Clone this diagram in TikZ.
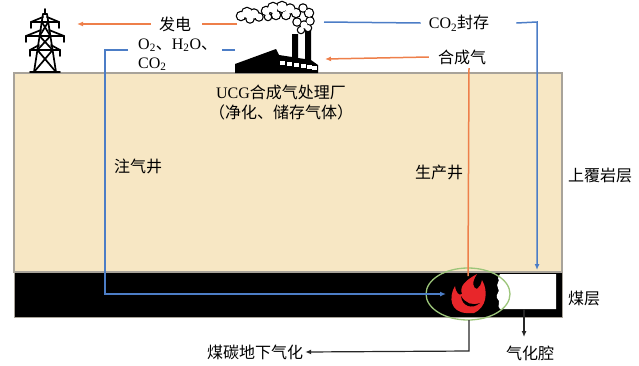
\documentclass[tikz,border=0pt]{standalone}
\usepackage{fontspec}
\setmainfont{Liberation Serif}
\newfontfamily\cjk{Noto Sans CJK SC}
\usetikzlibrary{arrows.meta}
\newcommand\zh[1]{{\cjk #1}}
\definecolor{rockfill}{HTML}{F7E7C4}
\definecolor{rockedge}{HTML}{A8A39A}
\definecolor{syngas}{HTML}{EE7F4A}
\definecolor{oxyblue}{HTML}{4C7DC6}
\definecolor{firered}{HTML}{E8262A}
\definecolor{zonegreen}{HTML}{9CC57A}
\begin{document}
\begin{tikzpicture}[x=1pt,y=-1pt,
  lbl/.style={inner sep=0pt, font=\fontsize{16}{20}\selectfont},
  oline/.style={draw=syngas, line width=1.5pt},
  bline/.style={draw=oxyblue, line width=1.5pt},
  kline/.style={draw=black!85, line width=1.2pt},
  tip/.style={-{Latex[length=6pt,width=5pt]}},
  tower/.style={draw=black, line width=1.7pt, line cap=round, line join=round}
]
\useasboundingbox (0,0) rectangle (639,365);

% ---- strata ----
\fill[rockfill, draw=rockedge, line width=1.2pt] (14,73) rectangle (562,272);
\fill[black, draw=rockedge, line width=1pt] (14,272) rectangle (562,317);

% gasification cavity with a ragged burn front
\fill[white] (500,274) -- (556,274) -- (556,309) -- (500,309)
  .. controls (496,306) and (502,302) .. (497,298)
  .. controls (495,294) and (501,292) .. (498,288)
  .. controls (495,284) and (501,281) .. (498,278)
  -- (500,274) -- cycle;

% ---- transmission tower ----
\begin{scope}[tower]
  \draw (45,9) -- (45,14);
  \draw (43,14) -- (34,72);
  \draw (47,14) -- (56,72);
  \draw (43,14) -- (47,14);
  % cross arms with insulators
  \draw (31,22) -- (59,22);
  \draw (31,22) -- (43,17); \draw (59,22) -- (47,17);
  \draw (31,22) -- (31,28); \draw (59,22) -- (59,28);
  \draw (26,36) -- (64,36);
  \draw (26,36) -- (41,30); \draw (64,36) -- (49,30);
  \draw (26,36) -- (26,42); \draw (64,36) -- (64,42);
  \draw (30,50) -- (60,50);
  \draw (30,50) -- (39,45); \draw (60,50) -- (51,45);
  \draw (30,50) -- (30,56); \draw (60,50) -- (60,56);
  % lattice bracing
  \draw (41.8,22) -- (50.4,36); \draw (48.2,22) -- (39.6,36);
  \draw (39.6,36) -- (52.6,50); \draw (50.4,36) -- (37.4,50);
  \draw (37.4,50) -- (56,72); \draw (52.6,50) -- (34,72);
  \draw (30,72) -- (60,72);
\end{scope}

% ---- processing plant ----
\fill[black] (235,73) -- (235,64) -- (276,49) -- (279,55) -- (292,57) -- (292,34)
  -- (298,34) -- (298,58) -- (305,59) -- (305,30) -- (311,30) -- (311,60)
  -- (318,65) -- (318,73) -- cycle;
\foreach \x/\y in {280/61,287/62,294/63,301/64,307/65,312/66}
  \fill[white] (\x,\y) rectangle ++(4.5,3.5);
% smoke: outline of a union of puffs (thick strokes, then white fill on top)
\def\puffs{241/16/4, 247/13/5, 254/14/4.5, 259/17/3.5, 250/19/3.5,
           266/11/4, 273/8/5, 282/7/5, 290/9/4.5, 296/13/4, 286/15/4, 276/15/4, 268/17/3,
           303/8/3.5, 309/13/4, 310/21/3.5, 304/25/3.5, 297/22/3.5, 301/30/3, 308/28/3}
\foreach \cx/\cy/\r in \puffs
  \draw[line width=2.4pt] (\cx,\cy) circle (\r);
\foreach \cx/\cy/\r in \puffs
  \fill[white] (\cx,\cy) circle (\r);

% ---- reaction zone ----
\draw[draw=zonegreen, line width=1.3pt] (468,294) ellipse (42 and 26);
\fill[firered] (466,313) .. controls (451,312) and (448,298) .. (455,286)
  .. controls (456,293) and (459,296) .. (462,294)
  .. controls (459,286) and (466,280) .. (477,274)
  .. controls (471,283) and (473,288) .. (477,289)
  .. controls (480,287) and (481,284) .. (482,280)
  .. controls (489,292) and (486,308) .. (474,313) -- cycle;
\fill[black] (461,296) .. controls (462,306) and (472,310) .. (480,303)
  .. controls (472,306) and (465,303) .. (461,296) -- cycle;
\coordinate (fire) at (468,276);
\coordinate (fireW) at (446,294);
\coordinate (zoneS) at (469,320);

% ---- labels ----
\node[lbl] (fadian) at (175,24) {\zh{发电}};
\node[lbl, anchor=west] (gasA) at (138,45) {O\textsubscript{2}\zh{、}H\textsubscript{2}O\zh{、}};
\node[lbl, anchor=west] (gasB) at (138,64) {CO\textsubscript{2}};
\node[lbl] (co2) at (459,23) {CO\textsubscript{2}\zh{封存}};
\node[lbl] (hcq) at (462,57) {\zh{合成气}};
\node[lbl] (plant1) at (281,92) {UCG\zh{合成气处理厂}};
\node[lbl] (plant2) at (281,112) {\zh{（净化、储存气体）}};
\node[lbl] (inj) at (138,166) {\zh{注气井}};
\node[lbl] (prod) at (439,172) {\zh{生产井}};
\node[lbl] (over) at (600,175) {\zh{上覆岩层}};
\node[lbl] (seam) at (584,298) {\zh{煤层}};
\node[lbl] (ucg) at (255,352) {\zh{煤碳地下气化}};
\node[lbl] (cav) at (530,353) {\zh{气化腔}};

% ---- flows ----
% power to the grid
\coordinate (plantW) at (237,24);
\coordinate (towerE) at (77,24);
\draw[oline] (plantW) -- ([xshift=11pt]fadian.east);
\draw[oline, tip] ([xshift=-8pt]fadian.west) -- (towerE);
% recycled oxidant / steam / CO2 down the injection well
\coordinate (plantW2) at (235,50);
\coordinate (injTop) at (105,50);
\draw[bline] (plantW2) -- (222,50);
\draw[bline, tip] (128,50) -- (injTop) -- (105,294) -- (fireW);
% CO2 storage
\coordinate (plantE) at (324,22);
\coordinate (stor) at (537,22);
\coordinate (storBot) at (537,270);
\draw[bline] (plantE) -- ([xshift=-8pt]co2.west);
\draw[bline, tip] ([xshift=27pt]co2.east) -- (stor) -- (storBot);
% syngas up the production well
\coordinate (plantE2) at (325,59);
\draw[oline, tip] ([xshift=-9pt]hcq.west) -- (plantE2);
\draw[oline] (fire) -- (469,68);
% process and cavity callouts
\draw[kline, tip] (zoneS) -- (469,351) -- ([xshift=2pt]ucg.east);
\draw[kline, tip] (524,309) -- (524,337);
\end{tikzpicture}
\end{document}
